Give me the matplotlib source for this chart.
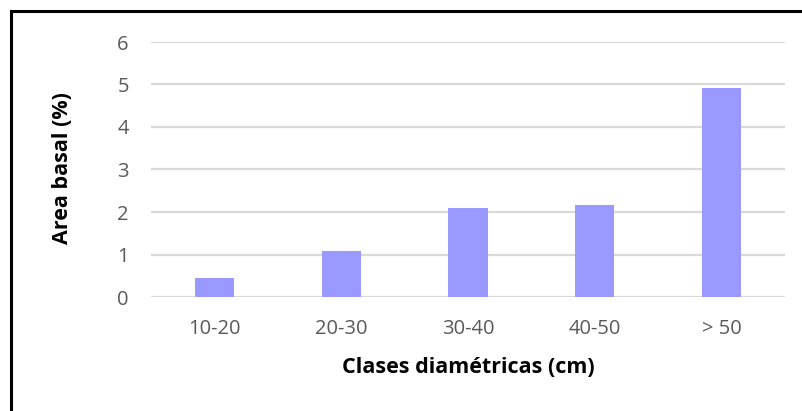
import matplotlib.pyplot as plt
from matplotlib.patches import Rectangle

categories = ['10-20', '20-30', '30-40', '40-50', '> 50']
values = [0.44, 1.08, 2.10, 2.16, 4.92]
yticks = [0, 1, 2, 3, 4, 5, 6]

plt.rcParams['font.family'] = ['Open Sans', 'DejaVu Sans']

W, H = 802, 411
fig = plt.figure(figsize=(W / 100, H / 100), dpi=100)
ax = fig.add_axes([151 / W, 1 - 297 / H, (785 - 151) / W, (297 - 42) / H])

# Bars
ax.bar(range(len(categories)), values, width=0.31, color='#9999FF', zorder=3)

# Format plot
ax.set_xlim(-0.5, len(categories) - 0.5)
ax.set_ylim(0, 6)
ax.set_yticks(yticks)
ax.set_xticks(range(len(categories)))
ax.set_xticklabels(categories)
ax.yaxis.grid(True, color='#D9D9D9', linewidth=1.6, zorder=0)
for s in ax.spines.values():
    s.set_visible(False)
ax.tick_params(length=0, labelsize=14.5, labelcolor='#595959')
ax.tick_params(axis='y', pad=16)
ax.tick_params(axis='x', pad=16)

ax.set_xlabel('Clases diamétricas (cm)', fontsize=15.5, fontweight='bold')
ax.set_ylabel('Area basal (%)', fontsize=15.5, fontweight='bold')
ax.xaxis.set_label_coords(0.5, -(357 - 297) / 255)
ax.yaxis.set_label_coords(-(151 - 73) / 634, 0.505)

# Outer frame (partially cropped)
fig.patches.append(Rectangle((11 / W, -0.1), 1.2, 1.1 - 11.5 / H,
                             transform=fig.transFigure, fill=False,
                             edgecolor='black', linewidth=2.2))

fig.savefig('out.png', dpi=100)
